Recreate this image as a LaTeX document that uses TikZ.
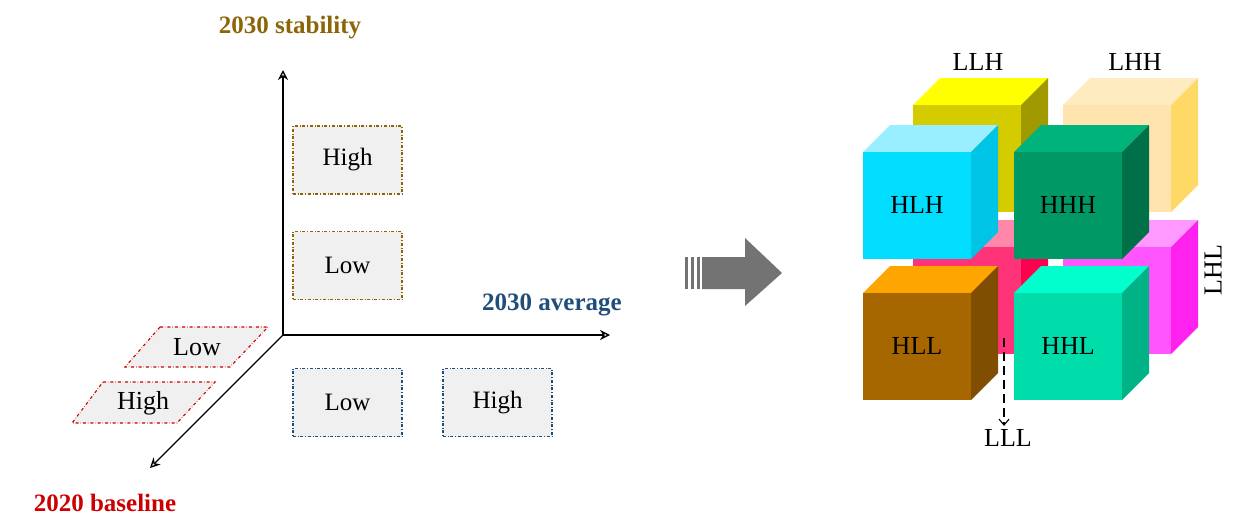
\documentclass[tikz,border=0pt]{standalone}
\usepackage{fontspec}
\setmainfont{Liberation Serif}
\usetikzlibrary{arrows.meta}
\definecolor{gold}{HTML}{8B6508}
\definecolor{navy}{HTML}{1F4E79}
\definecolor{redb}{HTML}{CC0000}
\newcommand\mkcube[7]{% x y front top side name label
  \definecolor{cf}{HTML}{#3}\definecolor{ct}{HTML}{#4}\definecolor{cs}{HTML}{#5}%
  \fill[ct] (#1,#2) -- ++(27,-27) -- ++(108,0) -- ++(-27,27) -- cycle;
  \fill[cs] (#1+108,#2) -- ++(27,-27) -- ++(0,107) -- ++(-27,27) -- cycle;
  \fill[cf] (#1,#2) rectangle ++(108,107);
  \node[cube lbl] (#6) at (#1+54,#2+53) {#7};
}
\begin{document}
\begin{tikzpicture}[x=1pt,y=-1pt,
  axis/.style={black,line width=1.3pt,-{Stealth[open,length=10pt,width=10pt]}},
  box/.style={draw,dash dot,line width=1.1pt,fill=gray!12,minimum width=109pt,minimum height=68pt,font=\fontsize{25}{25}\selectfont},
  cube lbl/.style={font=\fontsize{26}{26}\selectfont},
  lbl/.style={font=\fontsize{26}{26}\selectfont}]
\useasboundingbox (0,0) rectangle (1243,530);
% axes
\coordinate (o) at (283,335);
\coordinate (ty) at (283,70);
\coordinate (tx) at (610,335);
\coordinate (tz) at (150,468);
\draw[axis] (o) -- (ty);
\draw[axis] (o) -- (tx);
\draw[axis] (o) -- (tz);
\node[text=gold,font=\bfseries\fontsize{25}{25}\selectfont] (ls) at (290,28) {2030 stability};
\node[text=navy,font=\bfseries\fontsize{25}{25}\selectfont] (la) at (552,305) {2030 average};
\node[text=redb,font=\bfseries\fontsize{25}{25}\selectfont] (lb) at (105,503) {2020 baseline};
\node[box,draw=gold] (sh) at (347.5,160) {High};
\node[box,draw=gold] (sl) at (347.5,265.5) {Low};
\node[box,draw=navy] (al) at (347.5,402.5) {Low};
\node[box,draw=navy] (ah) at (497.5,402.5) {High};
\draw[redb,dash dot,line width=1.1pt,fill=gray!12] (160,327) -- (268,327) -- (230,367) -- (125,367) -- cycle;
\node[lbl] (bl) at (197,347) {Low};
\draw[redb,dash dot,line width=1.1pt,fill=gray!12] (103,382) -- (215,382) -- (177,423) -- (72,423) -- cycle;
\node[lbl] (bh) at (143,403) {High};
% block arrow
\fill[gray!90!black] (685,257) rectangle (688,289);
\fill[gray!90!black] (691,257) rectangle (694,289);
\fill[gray!90!black] (697,257) rectangle (700,289);
\fill[gray!90!black] (702,257) -- (745,257) -- (745,238) -- (782,273) -- (745,306) -- (745,289) -- (702,289) -- cycle;
% cubes
\mkcube{913}{247}{FF3377}{FF88AA}{FF0050}{lll}{}
\mkcube{1063}{247}{FF55FF}{FF99FF}{FF22EE}{lhl}{}
\mkcube{913}{105}{D4CC00}{FFFF00}{A09A00}{llh}{}
\mkcube{1063}{105}{FFE4B0}{FFEBC0}{FFD966}{lhh}{}
\mkcube{863}{293}{A66600}{FFA500}{7F4E00}{hll}{HLL}
\mkcube{1014}{293}{00DDAA}{00FFCC}{00B386}{hhl}{HHL}
\mkcube{863}{152}{00DDFF}{99EEFF}{00C4E6}{hlh}{HLH}
\mkcube{1014}{152}{009966}{00B37A}{007048}{hhh}{HHH}
\node[lbl] (tllh) at (978,62) {LLH};
\node[lbl] (tlhh) at (1135,62) {LHH};
\node[lbl,rotate=90] (tlhl) at (1213,270) {LHL};
\node[lbl] (tlll) at (1008,438) {LLL};
\coordinate (d0) at (1004,338);
\draw[line width=1.1pt,dash pattern=on 9pt off 5pt,-{Straight Barb[length=6pt,width=10pt]}] (d0) -- (tlll.north -| d0);
\end{tikzpicture}
\end{document}
